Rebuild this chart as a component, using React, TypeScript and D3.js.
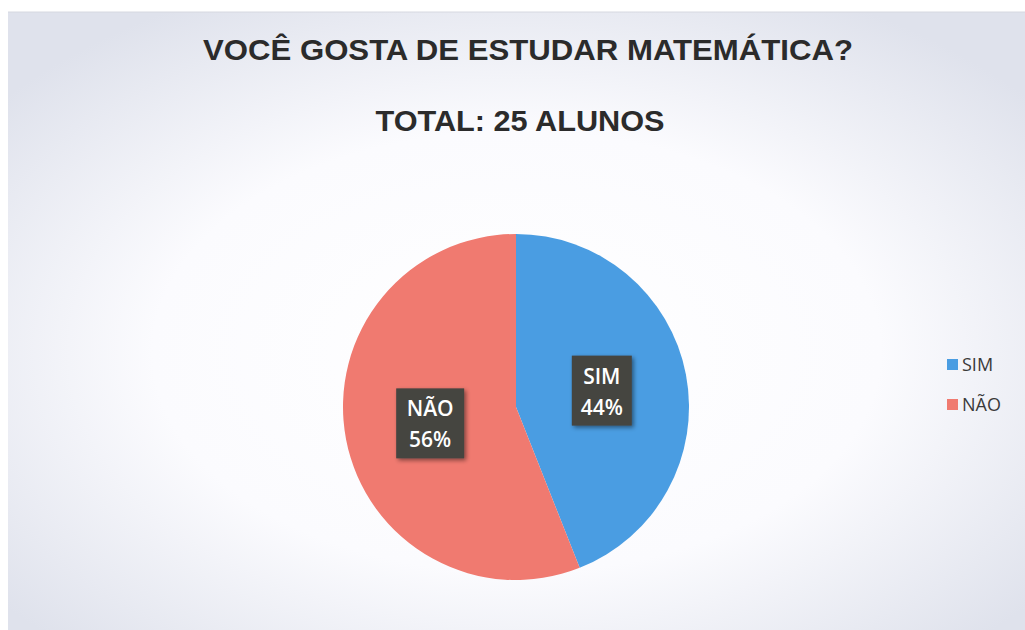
import React from "react";
import * as d3 from "d3";

const categories = ["SIM", "NÃO"];
const values = [11, 14];
const percentLabels = ["44%", "56%"];
const colors = ["#4a9de2", "#f07a70"];
const title = "VOCÊ GOSTA DE ESTUDAR MATEMÁTICA?";
const subtitle = "TOTAL: 25 ALUNOS";

export default function App() {
  const W = 1025, H = 630;
  const cx = 516, cy = 407, r = 173;
  const pie = d3.pie<number>().sort(null).value((d) => d)(values);
  const arc = d3.arc<d3.PieArcDatum<number>>().innerRadius(0).outerRadius(r);
  const labelArc = d3.arc<d3.PieArcDatum<number>>().innerRadius(r * 0.505).outerRadius(r * 0.505);
  const legendY = d3.scalePoint<string>().domain(categories).range([365, 405]);
  return (
    <svg width={W} height={H} style={{ position: "absolute", left: 0, top: 0, display: "block" }}>
      <defs>
        <radialGradient id="bg" cx="50%" cy="55%" r="65%">
          <stop offset="0%" stopColor="#ffffff" />
          <stop offset="55%" stopColor="#fbfbfe" />
          <stop offset="100%" stopColor="#dfe2ec" />
        </radialGradient>
        <filter id="sh" x="-20%" y="-20%" width="150%" height="150%">
          <feDropShadow dx="2" dy="2" stdDeviation="2" floodColor="#000" floodOpacity="0.45" />
        </filter>
      </defs>
      <rect x={0} y={0} width={W} height={H} fill="#ffffff" />
      <rect x={8} y={12} width={W - 8} height={H - 12} fill="url(#bg)" />
      <line x1={8} x2={W} y1={12} y2={12} stroke="#d6d8e0" strokeWidth={1} />
      <text x={528} y={60} textAnchor="middle" fontFamily="Liberation Sans, Arial, sans-serif" fontWeight="bold" fontSize={30} fill="#2b2b2b" textLength={650} lengthAdjust="spacingAndGlyphs">{title}</text>
      <text x={520} y={131} textAnchor="middle" fontFamily="Liberation Sans, Arial, sans-serif" fontWeight="bold" fontSize={29} fill="#2b2b2b" textLength={289} lengthAdjust="spacingAndGlyphs">{subtitle}</text>
      <g transform={`translate(${cx},${cy})`}>
        {pie.map((p, i) => (
          <path key={i} d={arc(p) || ""} fill={colors[i]} />
        ))}
        {pie.map((p, i) => {
          const [lx, ly] = labelArc.centroid(p);
          const bw = i === 0 ? 60 : 68, bh = 70;
          return (
            <g key={"l" + i} transform={`translate(${lx},${ly})`}>
              <rect x={-bw / 2} y={-bh / 2} width={bw} height={bh} fill="#454541" filter="url(#sh)" />
              <text x={0} y={-7} textAnchor="middle" fontFamily="Open Sans, sans-serif" fontWeight={600} fontSize={21} fill="#ffffff">{categories[i]}</text>
              <text x={0} y={24} textAnchor="middle" fontFamily="Open Sans, sans-serif" fontWeight={600} fontSize={21} fill="#ffffff">{percentLabels[i]}</text>
            </g>
          );
        })}
      </g>
      {categories.map((c, i) => (
        <g key={"lg" + i} transform={`translate(947,${legendY(c)})`}>
          <rect x={0} y={-6} width={11} height={11} fill={colors[i]} />
          <text x={15} y={6} fontFamily="Open Sans, sans-serif" fontSize={18} fill="#3a3a3a">{c}</text>
        </g>
      ))}
    </svg>
  );
}
